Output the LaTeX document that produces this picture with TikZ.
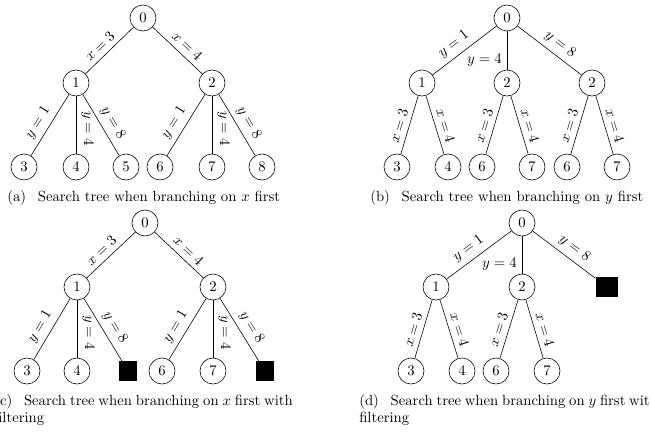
\documentclass[tikz,border=0pt]{standalone}
\usepackage{amsmath}
\usepackage{amsfonts}
\usepackage{xcolor}
\usetikzlibrary{arrows}
\usetikzlibrary{positioning}

\begin{document}
\begin{tikzpicture}[x=0.68pt,y=-0.68pt]
	%\draw[help lines] (0,0) grid[step=50] (650,433);
	
	\tikzstyle{tnode} = [circle,draw,minimum size=17.7pt,inner sep=0pt]
	\tikzstyle{fnode} = [rectangle,fill=black,minimum width=12pt,minimum height=13pt,inner sep=0pt]
	\tikzstyle{lbl} = [pos=0.56,above,sloped]
	\tikzstyle{capt} = [anchor=west,align=left,inner sep=0pt]
	\tikzstyle{captw} = [anchor=west,align=justify,text width=203pt,inner sep=0pt]
	
\useasboundingbox (0,0) rectangle (650,433);
\clip (0,0) rectangle (650,433);

% (a) branching on x first
\node[tnode] (a0) at (143,18) {0};
\node[tnode] (a1) at (76,83) {1};
\node[tnode] (a2) at (212,83) {2};
\node[tnode] (a3) at (24,167) {3};
\node[tnode] (a4) at (76,167) {4};
\node[tnode] (a5) at (126,167) {5};
\node[tnode] (a6) at (160,167) {6};
\node[tnode] (a7) at (212,167) {7};
\node[tnode] (a8) at (262,167) {8};

\draw (a0) edge node[lbl] {$x=3$} (a1);
\draw (a0) edge node[lbl] {$x=4$} (a2);
\draw (a1) edge node[lbl] {$y=1$} (a3);
\draw (a1) edge node[lbl] {$y=4$} (a4);
\draw (a1) edge node[lbl] {$y=8$} (a5);
\draw (a2) edge node[lbl] {$y=1$} (a6);
\draw (a2) edge node[lbl] {$y=4$} (a7);
\draw (a2) edge node[lbl] {$y=8$} (a8);

\node[capt] (capa) at (7,198) {(a)\hspace{8pt}Search tree when branching on $x$ first};

% (b) branching on y first
\node[tnode] (b0) at (507,18) {0};
\node[tnode] (b1) at (422,83) {1};
\node[tnode] (b2) at (507,83) {2};
\node[tnode] (b3) at (592,83) {2};
\node[tnode] (b4) at (397,167) {3};
\node[tnode] (b5) at (448,167) {4};
\node[tnode] (b6) at (482,167) {6};
\node[tnode] (b7) at (532,167) {7};
\node[tnode] (b8) at (567,167) {6};
\node[tnode] (b9) at (617,167) {7};

\draw (b0) edge node[lbl] {$y=1$} (b1);
\draw (b0) edge node[pos=0.75,left] {$y=4$} (b2);
\draw (b0) edge node[lbl] {$y=8$} (b3);
\draw (b1) edge node[lbl] {$x=3$} (b4);
\draw (b1) edge node[lbl] {$x=4$} (b5);
\draw (b2) edge node[lbl] {$x=3$} (b6);
\draw (b2) edge node[lbl] {$x=4$} (b7);
\draw (b3) edge node[lbl] {$x=3$} (b8);
\draw (b3) edge node[lbl] {$x=4$} (b9);

\node[capt] (capb) at (370,198) {(b)\hspace{8pt}Search tree when branching on $y$ first};

% (c) x first with filtering
\node[tnode] (c0) at (145,223) {0};
\node[tnode] (c1) at (77,287) {1};
\node[tnode] (c2) at (213,287) {2};
\node[tnode] (c3) at (27,371) {3};
\node[tnode] (c4) at (77,371) {4};
\node[fnode] (c5) at (128,371) {};
\node[tnode] (c6) at (162,371) {6};
\node[tnode] (c7) at (213,371) {7};
\node[fnode] (c8) at (265,371) {};

\draw (c0) edge node[lbl] {$x=3$} (c1);
\draw (c0) edge node[lbl] {$x=4$} (c2);
\draw (c1) edge node[lbl] {$y=1$} (c3);
\draw (c1) edge node[lbl] {$y=4$} (c4);
\draw (c1) edge node[lbl] {$y=8$} (c5);
\draw (c2) edge node[lbl] {$y=1$} (c6);
\draw (c2) edge node[lbl] {$y=4$} (c7);
\draw (c2) edge node[lbl] {$y=8$} (c8);

\node[captw] (capc) at (-6,410) {(c)\hspace{8pt}Search tree when branching on $x$ first with filtering};

% (d) y first with filtering
\node[tnode] (d0) at (522,223) {0};
\node[tnode] (d1) at (436,287) {1};
\node[tnode] (d2) at (522,287) {2};
\node[fnode,minimum width=15.5pt,minimum height=14pt] (d3) at (607,287) {};
\node[tnode] (d4) at (411,371) {3};
\node[tnode] (d5) at (462,371) {4};
\node[tnode] (d6) at (496,371) {6};
\node[tnode] (d7) at (547,371) {7};

\draw (d0) edge node[lbl] {$y=1$} (d1);
\draw (d0) edge node[pos=0.75,left] {$y=4$} (d2);
\draw (d0) edge node[lbl] {$y=8$} (d3);
\draw (d1) edge node[lbl] {$x=3$} (d4);
\draw (d1) edge node[lbl] {$x=4$} (d5);
\draw (d2) edge node[lbl] {$x=3$} (d6);
\draw (d2) edge node[lbl] {$x=4$} (d7);

\node[captw] (capd) at (359,410) {(d)\hspace{8pt}Search tree when branching on $y$ first with filtering};
\end{tikzpicture}
\end{document}
